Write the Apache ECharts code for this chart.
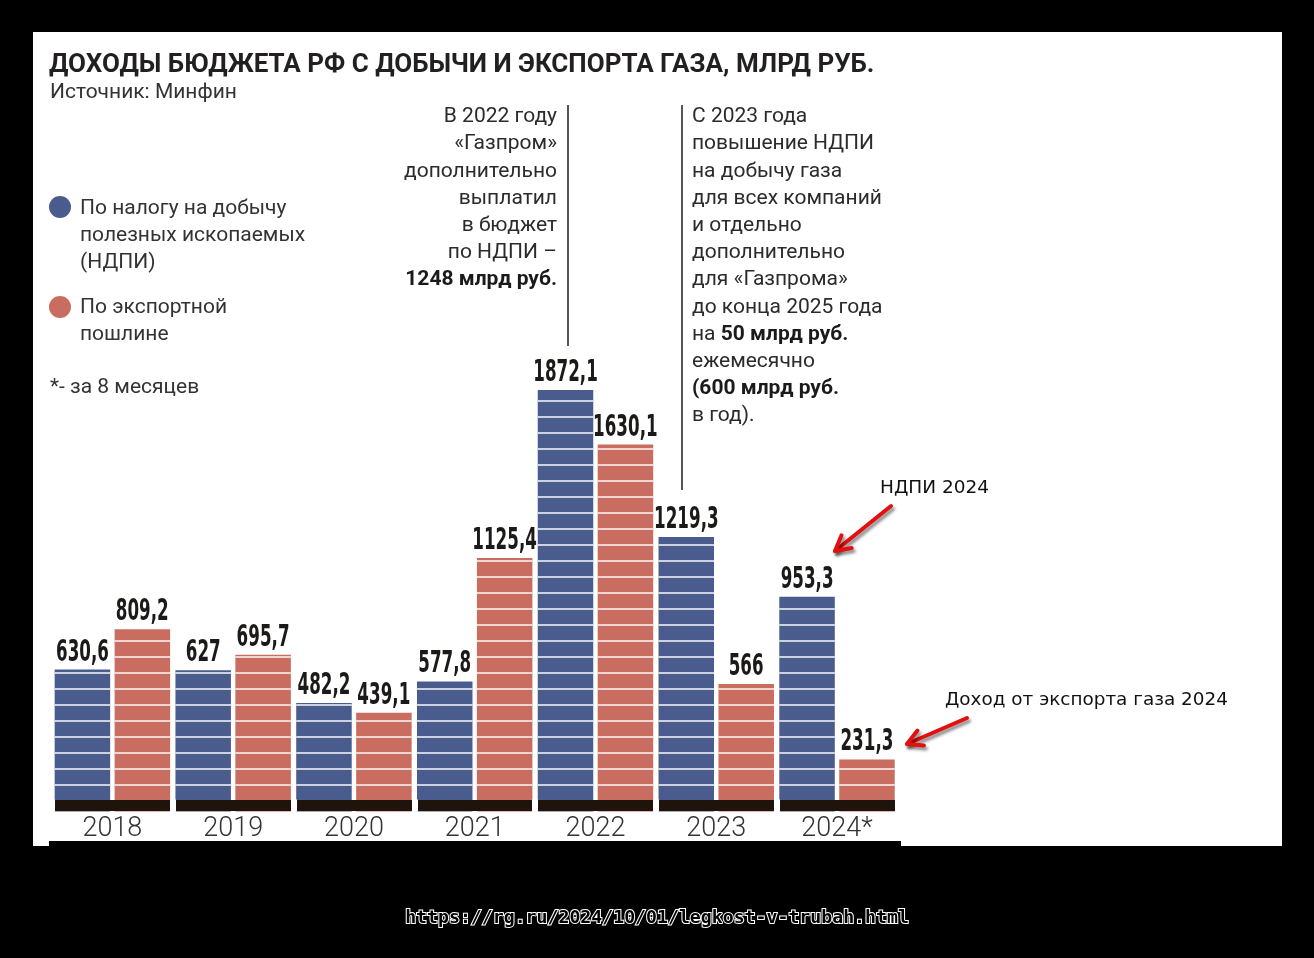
<!DOCTYPE html>
<html>
<head>
<meta charset="utf-8">
<script src="https://cdn.jsdelivr.net/npm/echarts@6/dist/echarts.min.js"></script>
<style>
  html, body { margin: 0; padding: 0; background: #000; }
  #chart { width: 1314px; height: 958px; }
</style>
</head>
<body>
<div id="chart"></div>
<script>
// data
const years = ["2018", "2019", "2020", "2021", "2022", "2023", "2024*"];
const ndpi = [630.6, 627, 482.2, 577.8, 1872.1, 1219.3, 953.3];
const exportDuty = [809.2, 695.7, 439.1, 1125.4, 1630.1, 566, 231.3];

const titleText = "ДОХОДЫ БЮДЖЕТА РФ С ДОБЫЧИ И ЭКСПОРТА ГАЗА, МЛРД РУБ.";
const sourceText = "Источник: Минфин";
const legendNdpi = ["По налогу на добычу", "полезных ископаемых", "(НДПИ)"];
const legendExport = ["По экспортной", "пошлине"];
const footnote = "*- за 8 месяцев";
const note2022 = [
  "В 2022 году", "«Газпром»", "дополнительно", "выплатил",
  "в бюджет", "по НДПИ –", "{b|1248 млрд руб.}",
];
const note2023 = [
  "С 2023 года", "повышение НДПИ", "на добычу газа", "для всех компаний",
  "и отдельно", "дополнительно", "для «Газпрома»", "до конца 2025 года",
  "на {b|50 млрд руб.}", "ежемесячно", "{b|(600 млрд руб.}", "в год).",
];
const calloutNdpi = "НДПИ 2024";
const calloutExport = "Доход от экспорта газа 2024";
const sourceUrl = "https://rg.ru/2024/10/01/legkost-v-trubah.html";

const BLUE = "#4a5c8e";
const RED = "#c96d60";
const CONDENSED = '"DejaVu Sans Condensed", "DejaVu Sans", sans-serif';
const SANS = 'Roboto, "Noto Sans", sans-serif';

const chart = echarts.init(document.getElementById("chart"), null, { renderer: "canvas" });

const stripes = {
  symbol: "rect",
  symbolSize: 1,
  dashArrayX: [1, 0],
  dashArrayY: [2, 14],
  rotation: 0,
  color: "rgba(255,255,255,0.72)",
};

const fmt = (v) => String(v).replace(".", ",");

function noteLines(lines, x, align) {
  return lines.map((t, i) => ({
    type: "text",
    z: 100,
    style: {
      text: t,
      x: x,
      y: 117 + i * 27.2,
      align: align,
      verticalAlign: "middle",
      font: "21px " + SANS,
      fill: "#2b2b2b",
      rich: { b: { font: "bold 21px " + SANS, fill: "#1a1a1a" } },
    },
  }));
}

function arrow(x1, y1, x2, y2) {
  const a = Math.atan2(y1 - y2, x1 - x2);
  const len = 17, spread = 0.5;
  const p1 = [x2 + len * Math.cos(a + spread), y2 + len * Math.sin(a + spread)];
  const p2 = [x2 + len * Math.cos(a - spread), y2 + len * Math.sin(a - spread)];
  const style = {
    stroke: "#e3100f", lineWidth: 4, lineCap: "round", lineJoin: "round",
    shadowBlur: 3, shadowColor: "rgba(0,0,0,0.45)", shadowOffsetX: 2, shadowOffsetY: 3,
  };
  return [
    { type: "line", z: 100, shape: { x1, y1, x2, y2 }, style },
    { type: "polyline", z: 100, shape: { points: [p1, [x2, y2], p2] }, style: Object.assign({ fill: null }, style) },
  ];
}

// value labels: narrow bold figures above each bar, placed with the axis scales
function labelSeries(values, side) {
  return {
    type: "custom",
    xAxisIndex: 0,
    yAxisIndex: 0,
    z: 5,
    silent: true,
    data: values.map((v, i) => [i, v]),
    encode: { x: 0, y: 1 },
    renderItem: (params, api) => {
      const pt = api.coord([api.value(0), api.value(1)]);
      const step = api.size([1, 0])[0];
      return {
        type: "text",
        x: pt[0] + side * step * 0.2476,
        y: pt[1] - 17,
        scaleX: 0.6,
        style: {
          text: fmt(api.value(1)),
          align: "center",
          verticalAlign: "middle",
          font: "bold 31px " + CONDENSED,
          fill: "#1c1a18",
        },
      };
    },
  };
}

const graphics = [
  { type: "rect", z: -10, shape: { x: 33, y: 32, width: 1249, height: 814 }, style: { fill: "#fff" } },
  { type: "rect", z: -9, shape: { x: 49, y: 841, width: 852, height: 6 }, style: { fill: "#000" } },
  { type: "text", z: 100, style: { text: titleText, x: 49, y: 65, verticalAlign: "middle", font: "bold 26px " + SANS, fill: "#231f20" } },
  { type: "text", z: 100, style: { text: sourceText, x: 50, y: 93, verticalAlign: "middle", font: "21px " + SANS, fill: "#333" } },
  { type: "circle", z: 100, shape: { cx: 60, cy: 207, r: 11 }, style: { fill: BLUE } },
  { type: "circle", z: 100, shape: { cx: 60, cy: 307, r: 11 }, style: { fill: RED } },
  ...legendNdpi.map((t, i) => ({ type: "text", z: 100, style: { text: t, x: 80, y: 209 + i * 27, verticalAlign: "middle", font: "21px " + SANS, fill: "#333" } })),
  ...legendExport.map((t, i) => ({ type: "text", z: 100, style: { text: t, x: 80, y: 308 + i * 27, verticalAlign: "middle", font: "21px " + SANS, fill: "#333" } })),
  { type: "text", z: 100, style: { text: footnote, x: 50, y: 388, verticalAlign: "middle", font: "21px " + SANS, fill: "#333" } },
  ...noteLines(note2022, 557, "right"),
  ...noteLines(note2023, 692, "left"),
  { type: "line", z: 100, shape: { x1: 568, y1: 105, x2: 568, y2: 346 }, style: { stroke: "#555", lineWidth: 2 } },
  { type: "line", z: 100, shape: { x1: 682, y1: 105, x2: 682, y2: 490 }, style: { stroke: "#555", lineWidth: 2 } },
  { type: "text", z: 100, style: { text: calloutNdpi, x: 880, y: 488, verticalAlign: "middle", font: '18.5px "DejaVu Sans", sans-serif', fill: "#111" } },
  { type: "text", z: 100, style: { text: calloutExport, x: 945, y: 700, verticalAlign: "middle", font: '18.4px "DejaVu Sans", sans-serif', fill: "#111" } },
  ...arrow(891, 506, 835, 551),
  ...arrow(967, 718, 907, 744),
  { type: "text", z: 100, style: { text: sourceUrl, x: 657, y: 918, align: "center", verticalAlign: "middle", font: 'bold 18.2px "DejaVu Sans Mono", monospace', fill: "#000", stroke: "#fff", lineWidth: 2 } },
];

chart.setOption({
  backgroundColor: "#000",
  animation: false,
  grid: { left: 52, right: 416.6, top: 361.2, bottom: 146.5, containLabel: false },
  xAxis: [
    {
      type: "category",
      data: years,
      position: "bottom",
      offset: -6,
      z: 10,
      axisLine: { show: true, lineStyle: { color: "#1e140c", width: 11, cap: "butt" } },
      axisTick: { show: false },
      axisLabel: { margin: 10, fontFamily: SANS, fontWeight: 300, fontSize: 27, color: "#333" },
    },
    {
      type: "category",
      data: years,
      position: "bottom",
      offset: -12,
      z: 11,
      axisLine: { show: false },
      axisTick: { show: true, length: 12, lineStyle: { color: "#fff", width: 6, cap: "butt" } },
      axisLabel: { show: false },
    },
  ],
  yAxis: { type: "value", min: 0, max: 2000, show: false },
  series: [
    {
      name: "По налогу на добычу полезных ископаемых (НДПИ)",
      type: "bar",
      data: ndpi,
      barWidth: 55.5,
      barGap: "8%",
      itemStyle: { color: BLUE, decal: stripes },
    },
    {
      name: "По экспортной пошлине",
      type: "bar",
      data: exportDuty,
      barWidth: 55.5,
      barGap: "8%",
      itemStyle: { color: RED, decal: stripes },
    },
    labelSeries(ndpi, -1),
    labelSeries(exportDuty, 1),
  ],
  graphic: graphics,
});
</script>
</body>
</html>
